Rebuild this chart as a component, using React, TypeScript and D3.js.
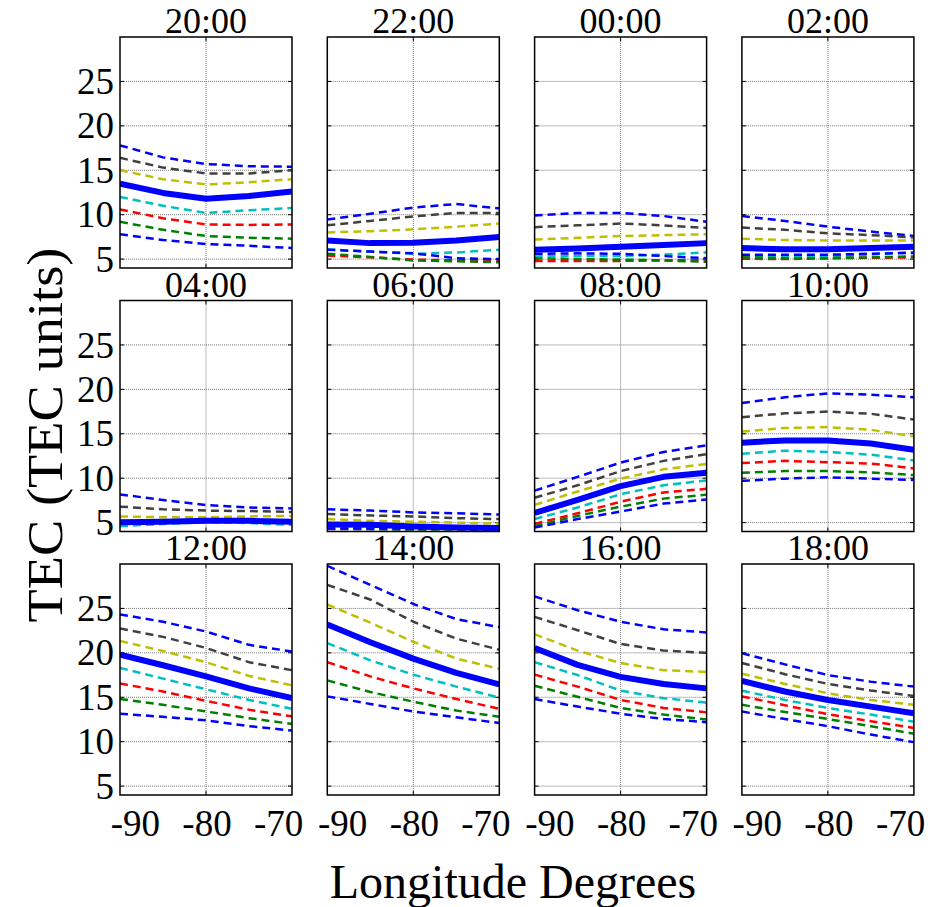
import React, { useEffect, useRef } from "react";
import * as d3 from "d3";

// panel titles (local time), in the order of the grid
const hours = ["20:00", "22:00", "00:00", "02:00", "04:00", "06:00", "08:00", "10:00", "12:00", "14:00", "16:00", "18:00"];
const longitudes = [-92, -86, -80, -74, -68];
const xTicks = [-90, -80, -70];
const yTicks = [5, 10, 15, 20, 25];

// TEC values, one row of 5 longitudes for every panel
const upperBlue = [
  [17.8, 16.45, 15.7, 15.45, 15.4], [9.46, 10.1, 10.8, 11.2, 10.7], [9.9, 10.2, 10.2, 9.85, 9.2], [9.85, 9.3, 8.65, 8.1, 7.6],
  [8.17, 7.55, 6.98, 6.7, 6.6], [6.5, 6.35, 6.15, 6.05, 5.9], [8.6, 10.15, 11.75, 12.95, 13.7], [18.47, 19.1, 19.55, 19.4, 19.1],
  [24.33, 23.5, 22.4, 20.9, 20.15], [29.8, 27.65, 25.5, 23.8, 22.9], [26.35, 24.8, 23.5, 22.65, 22.3], [19.95, 18.7, 17.5, 16.75, 16.2],
];
const darkGray = [
  [16.4, 15.3, 14.65, 14.65, 15.0], [8.8, 9.3, 9.8, 10.2, 10.2], [8.6, 8.8, 9.0, 8.8, 8.5], [8.55, 8.3, 7.9, 7.7, 7.45],
  [6.8, 6.5, 6.35, 6.3, 6.2], [5.97, 5.8, 5.7, 5.5, 5.4], [7.8, 9.2, 10.8, 11.95, 12.7], [16.87, 17.3, 17.5, 17.25, 16.6],
  [22.75, 21.8, 20.55, 18.95, 18.05], [27.65, 26.0, 23.5, 21.6, 20.35], [24.05, 22.55, 21.0, 20.25, 20.0], [18.85, 17.6, 16.5, 15.75, 15.15],
];
const yellow = [
  [15.0, 14.0, 13.4, 13.65, 14.0], [8.0, 8.15, 8.35, 8.65, 9.0], [7.2, 7.4, 7.6, 7.7, 7.8], [7.3, 7.15, 7.1, 7.1, 7.1],
  [5.7, 5.6, 5.6, 5.7, 5.75], [5.4, 5.2, 5.1, 5.0, 4.9], [7.0, 8.5, 9.95, 11.0, 11.6], [15.25, 15.65, 15.75, 15.45, 14.7],
  [21.35, 20.2, 18.95, 17.4, 16.35], [25.45, 23.4, 21.25, 19.35, 18.2], [22.1, 20.25, 18.85, 18.05, 17.85], [17.65, 16.5, 15.45, 14.7, 14.15],
];
const median = [
  [13.5, 12.45, 11.8, 12.1, 12.6], [7.1, 6.8, 6.85, 7.1, 7.5], [6.05, 6.2, 6.4, 6.6, 6.8], [6.25, 6.1, 6.1, 6.25, 6.4],
  [5.05, 5.1, 5.2, 5.2, 5.1], [4.8, 4.75, 4.55, 4.45, 4.4], [6.1, 7.55, 9.1, 10.15, 10.6], [14.0, 14.25, 14.25, 13.9, 13.2],
  [19.8, 18.6, 17.35, 16.0, 14.9], [23.2, 21.2, 19.35, 17.75, 16.45], [20.55, 18.65, 17.3, 16.5, 16.0], [16.85, 15.65, 14.7, 13.95, 13.2],
];
const cyan = [
  [12.0, 11.0, 10.2, 10.5, 10.75], [6.1, 5.85, 5.6, 5.75, 6.05], [5.3, 5.35, 5.35, 5.5, 5.75], [5.4, 5.3, 5.3, 5.5, 5.8],
  [4.6, 4.85, 5.05, 4.95, 4.75], [4.3, 4.25, 4.2, 4.2, 4.2], [5.4, 6.7, 8.2, 9.2, 9.75], [12.75, 13.1, 12.95, 12.65, 12.0],
  [18.3, 17.1, 15.9, 14.7, 13.7], [21.1, 19.15, 17.55, 16.2, 14.95], [18.95, 17.5, 15.75, 14.9, 14.4], [15.75, 14.7, 13.8, 13.05, 12.25],
];
const red = [
  [10.6, 9.6, 8.9, 8.85, 8.9], [5.4, 5.2, 4.95, 4.85, 4.9], [4.8, 4.8, 4.8, 4.85, 4.9], [5.05, 5.0, 5.1, 5.15, 5.2],
  [5.0, 5.1, 5.2, 5.2, 5.1], [3.95, 3.95, 3.95, 3.95, 3.95], [4.85, 6.05, 7.35, 8.4, 8.8], [11.7, 11.95, 11.8, 11.65, 11.1],
  [16.55, 15.65, 14.6, 13.6, 12.85], [18.95, 17.35, 16.0, 14.8, 13.7], [17.55, 16.2, 14.7, 13.8, 13.3], [15.1, 14.1, 13.1, 12.3, 11.55],
];
const green = [
  [9.2, 8.3, 7.6, 7.4, 7.3], [5.6, 5.25, 4.85, 4.75, 4.65], [5.1, 5.0, 4.95, 4.85, 4.7], [5.2, 5.1, 5.1, 5.2, 5.3],
  [4.95, 5.05, 5.15, 5.15, 5.05], [4.3, 4.3, 4.25, 4.25, 4.2], [4.6, 5.75, 6.8, 7.7, 8.15], [10.6, 10.8, 10.8, 10.65, 10.35],
  [14.8, 14.15, 13.4, 12.65, 12.0], [16.9, 15.6, 14.5, 13.5, 12.8], [16.3, 15.05, 13.8, 13.05, 12.5], [14.15, 13.35, 12.55, 11.75, 10.9],
];
const lowerBlue = [
  [7.8, 7.15, 6.7, 6.5, 6.25], [6.05, 5.85, 5.65, 5.1, 5.0], [5.6, 5.65, 5.6, 5.35, 5.1], [5.5, 5.5, 5.5, 5.6, 5.7],
  [4.9, 5.0, 5.1, 5.1, 5.0], [4.35, 4.35, 4.3, 4.3, 4.25], [4.45, 5.4, 6.25, 7.15, 7.6], [9.7, 9.95, 10.1, 9.95, 9.8],
  [13.15, 12.8, 12.4, 11.75, 11.25], [15.1, 14.25, 13.4, 12.75, 12.1], [14.8, 13.95, 13.15, 12.55, 12.2], [13.4, 12.55, 11.75, 10.8, 9.95],
];

const series = [
  { values: upperBlue, color: "#0000ff", width: 2.5, dash: "8,5" },
  { values: darkGray, color: "#404040", width: 2.5, dash: "8,5" },
  { values: yellow, color: "#bfbf00", width: 2.5, dash: "8,5" },
  { values: cyan, color: "#00bfbf", width: 2.5, dash: "8,5" },
  { values: red, color: "#ff0000", width: 2.5, dash: "8,5" },
  { values: green, color: "#008000", width: 2.5, dash: "8,5" },
  { values: lowerBlue, color: "#0000ff", width: 2.5, dash: "8,5" },
  { values: median, color: "#0000ff", width: 6, dash: null },
];

const W = 933;
const H = 907;
const FONT = "'Liberation Serif', 'DejaVu Serif', serif";

export default function App() {
  const ref = useRef<SVGSVGElement>(null);

  useEffect(() => {
    const svg = d3.select(ref.current);
    svg.selectAll("*").remove();

    const left0 = 120, top0 = 37, colStep = 207.3, rowStep = 263.5;
    const pw = 172, ph = 231;

    const x = d3.scaleLinear().domain([-92, -68]).range([0, pw]);
    const y = d3.scaleLinear().domain([4, 30]).range([ph, 0]);
    const line = d3.line<number>().x((d, i) => x(longitudes[i])).y((d) => y(d));

    hours.forEach((hour, k) => {
      const col = k % 4;
      const row = Math.floor(k / 4);
      const g = svg.append("g")
        .attr("transform", `translate(${left0 + col * colStep},${top0 + row * rowStep})`);

      g.append("clipPath").attr("id", "clip" + k)
        .append("rect").attr("width", pw).attr("height", ph);

      // grid
      g.selectAll(".hg").data(yTicks).enter().append("line")
        .attr("x1", 0).attr("x2", pw)
        .attr("y1", (d) => y(d)).attr("y2", (d) => y(d))
        .attr("stroke", "#777").attr("stroke-width", 1).attr("stroke-dasharray", "1,1");
      g.append("line")
        .attr("x1", x(-80)).attr("x2", x(-80)).attr("y1", 0).attr("y2", ph)
        .attr("stroke", "#777").attr("stroke-width", 1).attr("stroke-dasharray", "1,1");

      // tick marks inside the box
      yTicks.forEach((t) => {
        g.append("line").attr("x1", 0).attr("x2", 4).attr("y1", y(t)).attr("y2", y(t)).attr("stroke", "#000");
        g.append("line").attr("x1", pw - 4).attr("x2", pw).attr("y1", y(t)).attr("y2", y(t)).attr("stroke", "#000");
      });
      g.append("line").attr("x1", x(-80)).attr("x2", x(-80)).attr("y1", ph - 4).attr("y2", ph).attr("stroke", "#000");
      g.append("line").attr("x1", x(-80)).attr("x2", x(-80)).attr("y1", 0).attr("y2", 4).attr("stroke", "#000");

      const lines = g.append("g").attr("clip-path", `url(#clip${k})`);
      series.forEach((s) => {
        lines.append("path")
          .attr("d", line(s.values[k]))
          .attr("fill", "none")
          .attr("stroke", s.color)
          .attr("stroke-width", s.width)
          .attr("stroke-dasharray", s.dash)
          .attr("stroke-linejoin", "round");
      });

      g.append("rect").attr("width", pw).attr("height", ph)
        .attr("fill", "none").attr("stroke", "#000").attr("stroke-width", 1.5);

      g.append("text")
        .attr("x", pw / 2).attr("y", -4)
        .attr("text-anchor", "middle")
        .style("font-family", FONT).style("font-size", "36px")
        .text(hour);

      if (col === 0) {
        g.selectAll(".yl").data(yTicks).enter().append("text")
          .attr("x", -6).attr("y", (d) => y(d))
          .attr("dy", "0.34em")
          .attr("text-anchor", "end")
          .style("font-family", FONT).style("font-size", "37px")
          .text((d) => d);
      }
      if (row === 2) {
        g.selectAll(".xl").data(xTicks).enter().append("text")
          .attr("x", (d) => x(d) + 1).attr("y", ph + 41)
          .attr("text-anchor", "middle")
          .style("font-family", FONT).style("font-size", "37px")
          .text((d) => d);
      }
    });

    svg.append("text")
      .attr("transform", `translate(62,435) rotate(-90)`)
      .attr("text-anchor", "middle")
      .attr("textLength", 375)
      .attr("lengthAdjust", "spacingAndGlyphs")
      .style("font-family", FONT).style("font-size", "50px")
      .text("TEC (TEC units)");

    svg.append("text")
      .attr("x", 513).attr("y", 898)
      .attr("text-anchor", "middle")
      .style("font-family", FONT).style("font-size", "48px")
      .text("Longitude Degrees");
  }, []);

  return (
    <div style={{ position: "absolute", left: 0, top: 0 }}>
      <svg ref={ref} width={W} height={H} style={{ display: "block", background: "#fff" }} />
    </div>
  );
}
